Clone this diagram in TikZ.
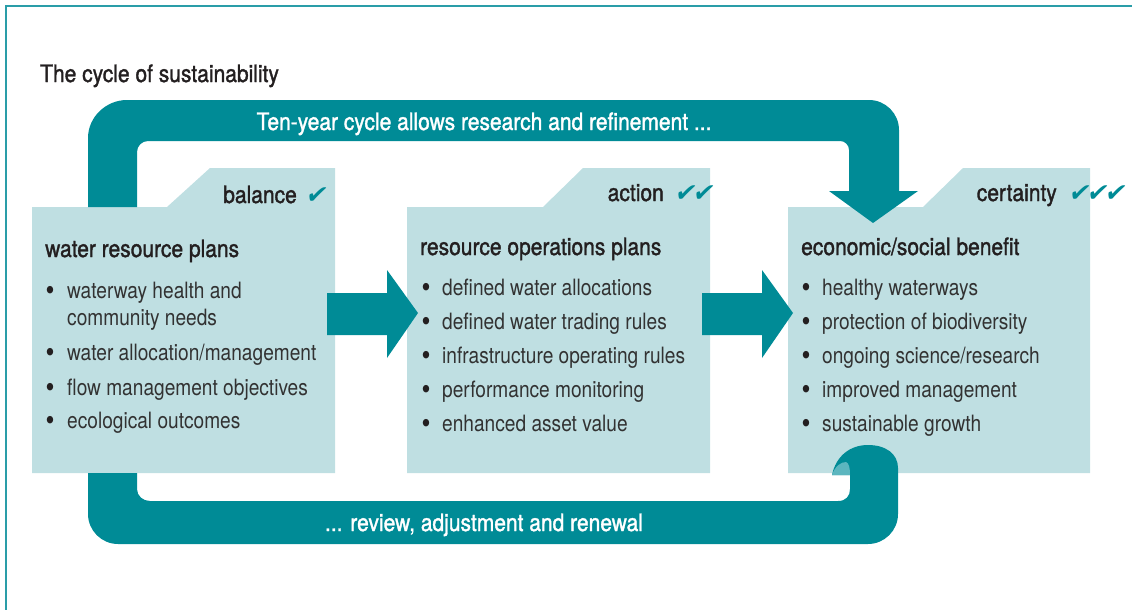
\documentclass[tikz,border=0pt]{standalone}
\usepackage{fontspec}
\setmainfont{TeX Gyre Heros}[FakeStretch=0.85]
\newfontfamily\medfont{TeX Gyre Heros}[FakeStretch=0.875,FakeBold=1.4]
\newfontfamily\checkfont{DejaVu Sans}
\definecolor{mainteal}{RGB}{0,139,150}
\definecolor{boxfill}{RGB}{191,223,226}
\definecolor{hilite}{RGB}{92,182,191}
\definecolor{framecol}{RGB}{42,157,168}
\definecolor{txt}{RGB}{50,50,50}
\definecolor{headtxt}{RGB}{35,31,32}
\begin{document}
\begin{tikzpicture}[x=1pt,y=-1pt,
  body/.style={anchor=base west, inner sep=0pt, font=\fontsize{22.5}{27}\selectfont, text=txt},
  bul/.style={anchor=base, inner sep=0pt, font=\fontsize{30}{27}\selectfont, text=headtxt},
  head/.style={anchor=base west, inner sep=0pt, font=\medfont\fontsize{24}{27}\selectfont, text=headtxt},
  tab/.style={anchor=base east, inner sep=0pt, font=\medfont\fontsize{24}{27}\selectfont, text=headtxt},
  band/.style={anchor=base, inner sep=0pt, font=\medfont\fontsize{24}{27}\selectfont, text=white},
  ticks/.style={anchor=base west, inner sep=0pt, font=\checkfont\fontsize{25}{24}\selectfont, text=mainteal, xslant=0.2},
  boxshape/.style={fill=boxfill},
  flow/.style={fill=mainteal}]
\useasboundingbox (0,0) rectangle (1132,610);
% frame
\draw[framecol, line width=1.2pt] (6,610) -- (6,6) -- (1132,6);
% title
\node[head] (title) at (40,82) {The cycle of sustainability};
% boxes
\fill[boxshape] (32,207) -- (167,207) -- (210,168) -- (335,168) -- (335,473) -- (32,473) -- cycle;
\fill[boxshape] (407,207) -- (543,207) -- (583,168) -- (710,168) -- (710,473) -- (407,473) -- cycle;
\fill[boxshape] (788,207) -- (923,207) -- (963,168) -- (1090,168) -- (1090,473) -- (788,473) -- cycle;
% top band with down arrow
\fill[flow] (88,207) -- (88,138) .. controls (88,117) and (106,100) .. (127,100)
  -- (869,100) .. controls (885.5,100) and (899,113.5) .. (899,130)
  -- (899,191) -- (918,191) -- (873,223) -- (829,191) -- (849,191)
  -- (849,150) .. controls (849,145) and (845,141) .. (840,141)
  -- (148,141) .. controls (142,141) and (137,146) .. (137,152)
  -- (137,207) -- cycle;
% bottom band with curl
\fill[flow] (88,473) -- (88,514) .. controls (88,530.5) and (101.5,544) .. (118,544)
  -- (868,544) .. controls (884.5,544) and (898,530.5) .. (898,514)
  -- (898,468) .. controls (898,454) and (886,445) .. (868,445)
  .. controls (850,445) and (836,456) .. (832,475)
  -- (850,475) -- (850,489) .. controls (850,496) and (846,501) .. (838,501)
  -- (150,501) .. controls (143,501) and (137,496) .. (137,489)
  -- (137,473) -- cycle;
\fill[hilite] (832,475) .. controls (835,466) and (841,462) .. (846,462)
  .. controls (849,463) and (850,468) .. (850,475) -- cycle;
% middle arrows
\fill[flow] (327,293) -- (387,293) -- (387,270) -- (418,313) -- (387,358) -- (387,335) -- (327,335) -- cycle;
\fill[flow] (702,293) -- (762,293) -- (762,270) -- (793,313) -- (762,358) -- (762,335) -- (702,335) -- cycle;
% band texts
\node[band] (toptext) at (484,130) {Ten-year cycle allows research and refinement ...};
\node[band] (bottext) at (484,531) {... review, adjustment and renewal};
% box 1
\node[tab] (t1) at (297,203) {balance};
\node[ticks] (c1) at (305,203) {✔};
\node[head] (h1) at (45,257) {water resource plans};
\node[bul] (b11) at (50,300) {•};
\node[body] (i11) at (67,298) {waterway health and};
\node[body] (i11b) at (67,325) {community needs};
\node[bul] (b12) at (50,362) {•};
\node[body] (i12) at (67,360) {water allocation/management};
\node[bul] (b13) at (50,397) {•};
\node[body] (i13) at (67,395) {flow management objectives};
\node[bul] (b14) at (50,430) {•};
\node[body] (i14) at (67,428) {ecological outcomes};
% box 2
\node[tab] (t2) at (664,201) {action};
\node[ticks] (c2) at (674,201) {✔\kern-3pt✔};
\node[head] (h2) at (420,255) {resource operations plans};
\node[bul] (b21) at (426,297) {•};
\node[body] (i21) at (442,295) {defined water allocations};
\node[bul] (b22) at (426,331) {•};
\node[body] (i22) at (442,329) {defined water trading rules};
\node[bul] (b23) at (426,365) {•};
\node[body] (i23) at (442,363) {infrastructure operating rules};
\node[bul] (b24) at (426,399) {•};
\node[body] (i24) at (442,397) {performance monitoring};
\node[bul] (b25) at (426,433) {•};
\node[body] (i25) at (442,431) {enhanced asset value};
% box 3
\node[tab] (t3) at (1057,201) {certainty};
\node[ticks] (c3) at (1068,201) {✔\kern-3pt✔\kern-3pt✔};
\node[head] (h3) at (801,255) {economic/social benefit};
\node[bul] (b31) at (806,297) {•};
\node[body] (i31) at (822,295) {healthy waterways};
\node[bul] (b32) at (806,331) {•};
\node[body] (i32) at (822,329) {protection of biodiversity};
\node[bul] (b33) at (806,365) {•};
\node[body] (i33) at (822,363) {ongoing science/research};
\node[bul] (b34) at (806,399) {•};
\node[body] (i34) at (822,397) {improved management};
\node[bul] (b35) at (806,433) {•};
\node[body] (i35) at (822,431) {sustainable growth};
\end{tikzpicture}
\end{document}
